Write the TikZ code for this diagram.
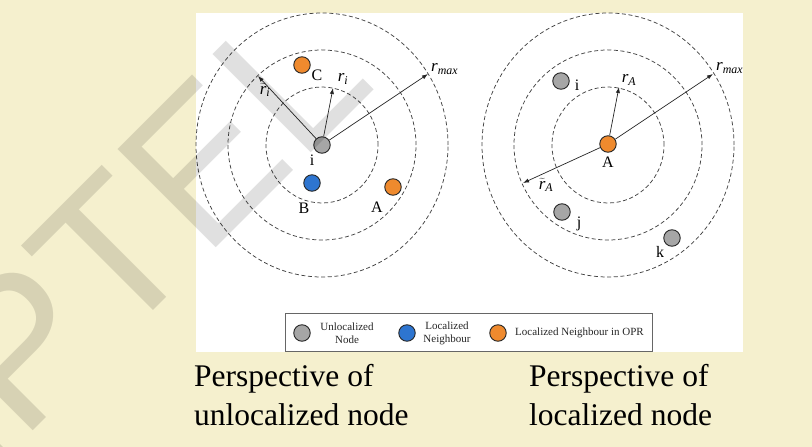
\documentclass[tikz,border=0pt]{standalone}
\usepackage{fontspec}
\setmainfont{Liberation Serif}
\newfontfamily\wmfont{Liberation Sans}
\usetikzlibrary{arrows.meta}
\definecolor{bgyellow}{HTML}{F5F0CE}
\definecolor{nodegray}{HTML}{A6A6A6}
\definecolor{nodeblue}{HTML}{2E75D0}
\definecolor{nodeorange}{HTML}{EF8A2E}
\definecolor{ringcol}{HTML}{444444}
\newcommand\rtilde{\ensuremath{\widetilde{\textit{r}}}}
\tikzset{
  ring/.style={draw=ringcol, dash pattern=on 4pt off 2.6pt, line width=0.75pt},
  nd/.style={circle, draw=black!85, line width=0.9pt, minimum size=16.5pt, inner sep=0pt},
  unloc/.style={nd, fill=nodegray},
  loc/.style={nd, fill=nodeblue},
  opr/.style={nd, fill=nodeorange},
  lbl/.style={font=\fontsize{16}{16}\selectfont, inner sep=0pt, text=black},
  rlbl/.style={font=\fontsize{17}{17}\selectfont, inner sep=0pt, text=black},
  arr/.style={-{Latex[length=6pt,width=4.2pt]}, line width=0.7pt, draw=black!85},
  legtxt/.style={font=\fontsize{11}{13}\selectfont, align=center, inner sep=0pt, text=black!85},
  legbox/.style={draw=black!60, line width=0.8pt, fill=white, minimum width=367pt, minimum height=38pt, inner sep=0pt},
  captxt/.style={font=\fontsize{31.5}{38}\selectfont, inner sep=0pt, anchor=base west, text=black},
  wm/.style={font=\wmfont\fontsize{202}{202}\selectfont, inner sep=0pt, anchor=base west, rotate=45, text=black, text opacity=0.12}
}
\begin{document}
\begin{tikzpicture}[x=1pt,y=-1pt]
\useasboundingbox (0,0) rectangle (812,447);
\fill[bgyellow] (0,0) rectangle (812,447);
\fill[white] (196,13) rectangle (743,352);

% ---------- left diagram: perspective of unlocalized node ----------
\draw[ring] (322,145) ellipse [x radius=56pt, y radius=58pt];
\draw[ring] (322,145) ellipse [x radius=94pt, y radius=95pt];
\draw[ring] (322,145) ellipse [x radius=126pt, y radius=132pt];

\node[unloc] (ci) at (322,145) {};
\node[opr] (cC) at (302,65) {};
\node[loc] (cB) at (312,183) {};
\node[opr] (cA) at (393,187) {};

\coordinate (tri) at (333,88);
\coordinate (trti) at (258,76);
\coordinate (trmaxL) at (428,74);
\draw[arr] (ci) -- (tri);
\draw[arr] (ci) -- (trti);
\draw[arr] (ci) -- (trmaxL);

\node[lbl] (li) at (312,160) {i};
\node[lbl] (lC) at (317,75) {C};
\node[lbl] (lB) at (304,208) {B};
\node[lbl] (lA) at (377,207) {A};
\node[rlbl] (lri) at (343,79) {\textit{r}\textsubscript{\textit{i}}};
\node[rlbl] (lrti) at (265,90) {\rtilde\textsubscript{\textit{i}}};
\node[rlbl, anchor=west] (lrmaxL) at (431,69) {\textit{r}\textsubscript{\textit{max}}};

% ---------- right diagram: perspective of localized node ----------
\draw[ring] (608,145) ellipse [x radius=56pt, y radius=58pt];
\draw[ring] (608,145) ellipse [x radius=94pt, y radius=95pt];
\draw[ring] (608,145) ellipse [x radius=126pt, y radius=132pt];

\node[opr] (cAr) at (608,144) {};
\node[unloc] (cir) at (561,81) {};
\node[unloc] (cj) at (562,212) {};
\node[unloc] (ck) at (672,238) {};

\coordinate (trA) at (619,87);
\coordinate (trmaxR) at (713,74);
\coordinate (trtA) at (523,183);
\draw[arr] (cAr) -- (trA);
\draw[arr] (cAr) -- (trmaxR);
\draw[arr] (cAr) -- (trtA);

\node[lbl] (lAr) at (608,162) {A};
\node[lbl] (lir) at (577,85) {i};
\node[lbl] (lj) at (579,224) {j};
\node[lbl] (lk) at (660,252) {k};
\node[rlbl] (lrA) at (629,80) {\textit{r}\textsubscript{\textit{A}}};
\node[rlbl] (lrtA) at (546,185) {\rtilde\textsubscript{\textit{A}}};
\node[rlbl, anchor=west] (lrmaxR) at (716,68) {\textit{r}\textsubscript{\textit{max}}};

% ---------- legend ----------
\node[legbox] (legend) at (468.5,332) {};
\node[unloc] (kg) at (302,333) {};
\node[legtxt] (tg) at (347,333) {Unlocalized\\Node};
\node[loc] (kb) at (407,333) {};
\node[legtxt] (tb) at (447,333) {Localized\\Neighbour};
\node[opr] (ko) at (498,333) {};
\node[legtxt, anchor=west] (to) at (515,333) {Localized Neighbour in OPR};

% ---------- captions ----------
\node[captxt] (cap1a) at (194,386.7) {Perspective of};
\node[captxt] (cap1b) at (194,425) {unlocalized node};
\node[captxt] (cap2a) at (529,386.7) {Perspective of};
\node[captxt] (cap2b) at (529,425) {localized node};

% ---------- watermark ----------
\begin{scope}
\clip (0,0) rectangle (812,447);
\node[wm] (wmark) at (-81.7,545.7) {NPTEL};
\end{scope}
\end{tikzpicture}
\end{document}
